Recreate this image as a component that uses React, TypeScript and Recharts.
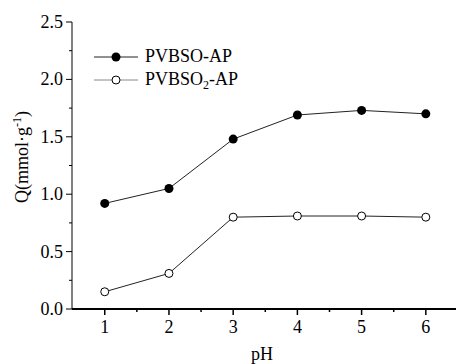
import React from 'react';
import { LineChart, Line, XAxis, YAxis } from 'recharts';

const phValues = [1, 2, 3, 4, 5, 6];
const pvbsoAp = [0.92, 1.05, 1.48, 1.69, 1.73, 1.7];
const pvbso2Ap = [0.15, 0.31, 0.8, 0.81, 0.81, 0.8];

const xTicks = [1, 1.5, 2, 2.5, 3, 3.5, 4, 4.5, 5, 5.5, 6];
const yTicks = [0, 0.25, 0.5, 0.75, 1, 1.25, 1.5, 1.75, 2, 2.25, 2.5];

const data = phValues.map((ph, i) => ({ ph, a: pvbsoAp[i], b: pvbso2Ap[i] }));

const FONT = '"Liberation Serif", "Times New Roman", serif';

const XTick = (props: any) => {
  const { x, y, payload } = props;
  const major = Number.isInteger(payload.value);
  return (
    <g>
      <line x1={x} x2={x} y1={y} y2={y + (major ? 6 : 3)} stroke="#000" strokeWidth={1.5} />
      {major && (
        <text x={x} y={y + 24} textAnchor="middle" fontFamily={FONT} fontSize={18} fill="#000">
          {payload.value}
        </text>
      )}
    </g>
  );
};

const YTick = (props: any) => {
  const { x, y, payload } = props;
  const major = Math.abs(payload.value * 2 - Math.round(payload.value * 2)) < 1e-6;
  return (
    <g>
      <line x1={x} x2={x - (major ? 6 : 3)} y1={y} y2={y} stroke="#000" strokeWidth={1} />
      {major && (
        <text x={x - 9} y={y + 6} textAnchor="end" fontFamily={FONT} fontSize={18} fill="#000">
          {payload.value.toFixed(1)}
        </text>
      )}
    </g>
  );
};

const YLabel = () => (
  <text
    transform="translate(28,157) rotate(-90)"
    textAnchor="middle"
    fontFamily={FONT}
    fontSize={18}
    fill="#000"
  >
    Q(mmol·g
    <tspan dy={-7} fontSize={12}>-1</tspan>
    <tspan dy={7}>)</tspan>
  </text>
);

const XLabel = () => (
  <text x={262} y={360} textAnchor="middle" fontFamily={FONT} fontSize={18} fill="#000">
    pH
  </text>
);

// legend drawn as an overlay so it doesn't shrink the plot area
const LegendBox = () => (
  <div
    style={{
      position: 'absolute',
      top: 45,
      left: 94,
      fontFamily: FONT,
      fontSize: 18,
      color: '#000',
      lineHeight: '23px',
    }}
  >
    <div style={{ display: 'flex', alignItems: 'center' }}>
      <svg width={46} height={12}>
        <line x1={0} x2={44} y1={6} y2={6} stroke="#222" strokeWidth={1} />
        <circle cx={22} cy={6} r={4.5} fill="#000" />
      </svg>
      <span style={{ marginLeft: 5 }}>PVBSO-AP</span>
    </div>
    <div style={{ display: 'flex', alignItems: 'center' }}>
      <svg width={46} height={12}>
        <line x1={0} x2={44} y1={6} y2={6} stroke="#888" strokeWidth={1} />
        <circle cx={22} cy={6} r={4} fill="#fff" stroke="#000" strokeWidth={1} />
      </svg>
      <span style={{ marginLeft: 5 }}>
        PVBSO<sub style={{ fontSize: 12, verticalAlign: '-4px', lineHeight: 0 }}>2</sub>-AP
      </span>
    </div>
  </div>
);

export default function App() {
  return (
    <div style={{ position: 'fixed', top: 0, left: 0, width: 456, height: 364, background: '#fff' }}>
      <LineChart width={456} height={364} data={data} margin={{ top: 22, right: 0, bottom: 0, left: 0 }}>
        <XAxis
          dataKey="ph"
          type="number"
          domain={[0.49, 6.47]}
          ticks={xTicks}
          interval={0}
          tickSize={0}
          tickMargin={0}
          tickLine={false}
          tick={<XTick />}
          height={55}
          axisLine={{ stroke: '#000', strokeWidth: 2 }}
          label={<XLabel />}
        />
        <YAxis
          type="number"
          domain={[0, 2.5]}
          ticks={yTicks}
          interval={0}
          tickSize={0}
          tickMargin={0}
          tickLine={false}
          tick={<YTick />}
          width={72}
          axisLine={{ stroke: '#000', strokeWidth: 1 }}
          label={<YLabel />}
        />
        <Line
          dataKey="a"
          stroke="#222"
          strokeWidth={1}
          dot={{ r: 4.5, fill: '#000', stroke: '#000', strokeWidth: 0 }}
          isAnimationActive={false}
        />
        <Line
          dataKey="b"
          stroke="#222"
          strokeWidth={1}
          dot={{ r: 4, fill: '#fff', stroke: '#000', strokeWidth: 1 }}
          isAnimationActive={false}
        />
      </LineChart>
      <LegendBox />
    </div>
  );
}
